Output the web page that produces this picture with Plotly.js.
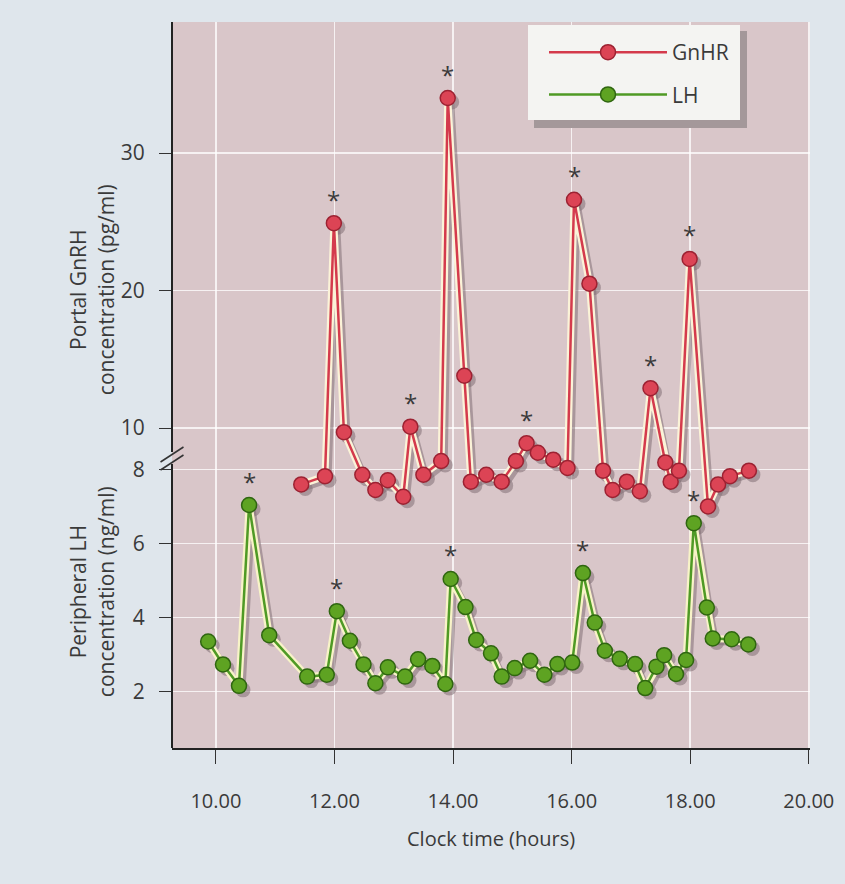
<!DOCTYPE html>
<html>
<head>
<meta charset="utf-8">
<script src="https://cdn.plot.ly/plotly-3.0.1.min.js"></script>
<style>html,body{margin:0;padding:0;background:#dfe6ec;}</style>
</head>
<body>
<div id="chart" style="width:845px;height:884px;"></div>
<script>
// GnRH (portal) series
const gnrhTime = [11.44, 11.84, 11.99, 12.16, 12.47, 12.69, 12.90, 13.16, 13.28, 13.50, 13.80, 13.91, 14.19, 14.30, 14.56, 14.82, 15.06, 15.24, 15.43, 15.69, 15.93, 16.04, 16.30, 16.53, 16.69, 16.93, 17.15, 17.33, 17.58, 17.67, 17.81, 17.99, 18.30, 18.47, 18.67, 18.99];
const gnrhValue = [5.9, 6.5, 24.9, 9.7, 6.6, 5.5, 6.2, 5.0, 10.1, 6.6, 7.6, 34.0, 13.8, 6.1, 6.6, 6.1, 7.6, 8.9, 8.2, 7.7, 7.1, 26.6, 20.5, 6.9, 5.5, 6.1, 5.4, 12.9, 7.5, 6.1, 6.9, 22.3, 4.3, 5.9, 6.5, 6.9];
const gnrhPeaks = [2, 8, 11, 17, 21, 27, 31];

// LH (peripheral) series
const lhTime = [9.87, 10.12, 10.39, 10.56, 10.90, 11.54, 11.87, 12.04, 12.26, 12.49, 12.69, 12.90, 13.19, 13.41, 13.65, 13.87, 13.96, 14.21, 14.39, 14.64, 14.82, 15.04, 15.30, 15.54, 15.76, 16.01, 16.19, 16.39, 16.56, 16.81, 17.07, 17.24, 17.43, 17.56, 17.76, 17.93, 18.06, 18.28, 18.38, 18.70, 18.98];
const lhValue = [3.35, 2.73, 2.15, 7.04, 3.52, 2.40, 2.45, 4.17, 3.37, 2.73, 2.22, 2.65, 2.40, 2.87, 2.69, 2.20, 5.04, 4.28, 3.39, 3.03, 2.40, 2.63, 2.83, 2.45, 2.74, 2.78, 5.20, 3.86, 3.10, 2.88, 2.74, 2.09, 2.67, 2.98, 2.47, 2.85, 6.55, 4.27, 3.43, 3.41, 3.27];
const lhPeaks = [3, 7, 16, 26, 36];

const xTicks = [10, 12, 14, 16, 18, 20];
const gnrhTicks = [10, 20, 30];
const lhTicks = [2, 4, 6, 8];

const FONT = "'Open Sans', sans-serif";
const TXT = '#3a3a3a';

const xRange = [9.26, 20.02];
const gRange = [-13.27, 39.53];
const lRange = [0.47, 20.1];
// drop-shadow offset in pixels, turned into axis-range shifts
const SH = 4;
const plotW = 638, plotH = 726;
const shift = (r, px, len) => { const d = (r[1] - r[0]) * px / len; return d; };
const dx = shift(xRange, SH, plotW), dg = shift(gRange, SH, plotH), dl = shift(lRange, SH, plotH);

const SHADOW = 'rgba(130,112,116,0.55)';
const traces = [
  // shadows (shifted overlay axes)
  {x: gnrhTime, y: gnrhValue, xaxis: 'x2', yaxis: 'y3', mode: 'lines+markers', showlegend: false, hoverinfo: 'skip',
   line: {color: SHADOW, width: 5}, marker: {size: 15, color: SHADOW}},
  {x: lhTime, y: lhValue, xaxis: 'x2', yaxis: 'y4', mode: 'lines+markers', showlegend: false, hoverinfo: 'skip',
   line: {color: SHADOW, width: 5}, marker: {size: 15, color: SHADOW}},
  // cream underlay
  {x: gnrhTime, y: gnrhValue, xaxis: 'x3', yaxis: 'y5', mode: 'lines', showlegend: false, hoverinfo: 'skip',
   line: {color: '#fbf3d8', width: 7}},
  {x: lhTime, y: lhValue, xaxis: 'x3', yaxis: 'y6', mode: 'lines', showlegend: false, hoverinfo: 'skip',
   line: {color: '#f8f3c8', width: 7}},
  // main series
  {x: gnrhTime, y: gnrhValue, xaxis: 'x3', yaxis: 'y5', mode: 'lines+markers', name: 'GnHR', legendgroup: 'g',
   line: {color: '#d43a4c', width: 2.5},
   marker: {size: 15, color: '#dc4455', line: {color: '#9c2232', width: 1.5}}},
  {x: lhTime, y: lhValue, xaxis: 'x3', yaxis: 'y6', mode: 'lines+markers', name: 'LH', legendgroup: 'l',
   line: {color: '#4f9a25', width: 2.5},
   marker: {size: 15, color: '#5ea322', line: {color: '#2f6610', width: 1.5}}}
];

const annotations = [];
gnrhPeaks.forEach(i => annotations.push({x: gnrhTime[i], y: gnrhValue[i], xref: 'x', yref: 'y', text: '*',
  showarrow: false, yshift: 24, font: {family: FONT, size: 24, color: TXT}}));
lhPeaks.forEach(i => annotations.push({x: lhTime[i], y: lhValue[i], xref: 'x', yref: 'y2', text: '*',
  showarrow: false, yshift: 24, font: {family: FONT, size: 24, color: TXT}}));

annotations.push({xref: 'paper', yref: 'paper', x: 0.5, y: -0.124, text: 'Clock time (hours)', showarrow: false,
  xanchor: 'center', yanchor: 'middle', font: {family: FONT, size: 20, color: TXT}});
annotations.push({xref: 'paper', yref: 'paper', x: -0.125, y: 0.631, text: 'Portal GnRH<br>concentration (pg/ml)', showarrow: false,
  textangle: -90, xanchor: 'center', yanchor: 'middle', font: {family: FONT, size: 21, color: TXT}});
annotations.push({xref: 'paper', yref: 'paper', x: -0.125, y: 0.215, text: 'Peripheral LH<br>concentration (ng/ml)', showarrow: false,
  textangle: -90, xanchor: 'center', yanchor: 'middle', font: {family: FONT, size: 21, color: TXT}});

const P = py => 1 - (py - 22) / 726;
const X = px => (px - 172) / 638;
const shapes = [
  {type: 'line', xref: 'paper', yref: 'paper', x0: 0, x1: 0, y0: 0, y1: P(464), line: {color: '#222', width: 2}},
  {type: 'line', xref: 'paper', yref: 'paper', x0: 0, x1: 0, y0: P(452), y1: 1, line: {color: '#222', width: 2}},
  {type: 'line', xref: 'paper', yref: 'paper', x0: -0.018, x1: 0.018, y0: P(462), y1: P(447), line: {color: '#333', width: 1.5}},
  {type: 'line', xref: 'paper', yref: 'paper', x0: -0.018, x1: 0.018, y0: P(470), y1: P(455), line: {color: '#333', width: 1.5}},
  // legend box with shadow
  {type: 'rect', xref: 'paper', yref: 'paper', layer: 'above', x0: X(534), x1: X(747), y0: P(128), y1: P(31),
   fillcolor: '#a4989a', line: {width: 0}},
  {type: 'rect', xref: 'paper', yref: 'paper', layer: 'above', x0: X(528), x1: X(740), y0: P(120), y1: P(25),
   fillcolor: '#f4f4f2', line: {width: 0}}
];

const axisCommon = {
  ticks: 'outside', tickcolor: '#333', tickwidth: 1, showgrid: true,
  gridcolor: 'rgba(255,255,255,0.75)', gridwidth: 1.5, zeroline: false,
  tickfont: {family: FONT, size: 21, color: TXT}
};
const hidden = {visible: false, showgrid: false, zeroline: false, fixedrange: true};

const layout = {
  width: 845, height: 884,
  margin: {l: 172, r: 35, t: 22, b: 136},
  paper_bgcolor: '#dfe6ec',
  plot_bgcolor: '#d9c6c9',
  font: {family: FONT, color: TXT},
  xaxis: Object.assign({}, axisCommon, {
    range: xRange, tickvals: xTicks, tickformat: '.2f', ticklen: 14,
    tickfont: {family: FONT, size: 20, color: TXT},
    showline: true, linecolor: '#222', linewidth: 2, ticklabelstandoff: 20
  }),
  yaxis: Object.assign({}, axisCommon, {
    range: gRange, tickvals: gnrhTicks, ticklen: 12, showline: false, ticklabelstandoff: 10
  }),
  yaxis2: Object.assign({}, axisCommon, {
    range: lRange, tickvals: lhTicks, ticklen: 12, showline: false, ticklabelstandoff: 10,
    overlaying: 'y', side: 'left'
  }),
  xaxis2: Object.assign({}, hidden, {overlaying: 'x', range: [xRange[0] - dx, xRange[1] - dx]}),
  xaxis3: Object.assign({}, hidden, {overlaying: 'x', range: xRange}),
  yaxis3: Object.assign({}, hidden, {overlaying: 'y', range: [gRange[0] + dg, gRange[1] + dg]}),
  yaxis4: Object.assign({}, hidden, {overlaying: 'y', range: [lRange[0] + dl, lRange[1] + dl]}),
  yaxis5: Object.assign({}, hidden, {overlaying: 'y', range: gRange}),
  yaxis6: Object.assign({}, hidden, {overlaying: 'y', range: lRange}),
  legend: {
    x: X(544), y: P(32), xanchor: 'left', yanchor: 'top',
    bgcolor: 'rgba(0,0,0,0)', borderwidth: 0, itemwidth: 118,
    font: {family: FONT, size: 21, color: TXT}, tracegroupgap: 12
  },
  annotations: annotations,
  shapes: shapes,
  showlegend: true
};

Plotly.newPlot('chart', traces, layout, {displayModeBar: false, staticPlot: true});
</script>
</body>
</html>
